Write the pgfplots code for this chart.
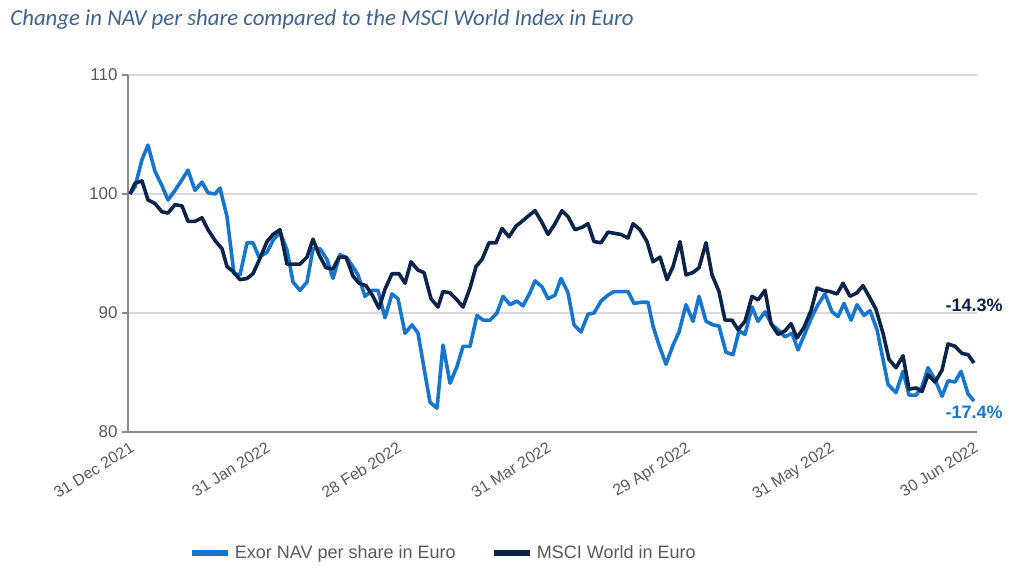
\documentclass[border=0pt]{standalone}
\usepackage{pgfplots}
\pgfplotsset{compat=1.18}
\usepackage{fontspec}
\setmainfont{Liberation Sans}
\newfontfamily\titlefont{Carlito}
\definecolor{exorblue}{RGB}{24,117,205}
\definecolor{navy}{RGB}{12,36,74}
\definecolor{gridgray}{RGB}{217,217,217}
\definecolor{axisgray}{RGB}{137,137,137}
\definecolor{textgray}{RGB}{89,89,89}
\definecolor{titleblue}{RGB}{62,98,145}
\begin{document}
\begin{tikzpicture}[x=0.5bp,y=0.5bp]
\path[use as bounding box] (-128,-147) rectangle (903,432);
\node[anchor=west, text=titleblue, font=\titlefont\itshape\fontsize{11.4bp}{13bp}\selectfont, inner sep=0pt] at (-118,412) {Change in NAV per share compared to the MSCI World Index in Euro};
\begin{axis}[
  at={(0,0)}, anchor=south west,
  scale only axis, width=424.5bp, height=178.5bp,
  xmin=-2, xmax=847, ymin=80, ymax=110,
  axis x line*=bottom, axis y line*=left,
  x axis line style={draw=axisgray, line width=1.1bp, -},
  y axis line style={draw=axisgray, line width=0.8bp, -},
  ytick={80,90,100,110},
  ymajorgrids, grid style={gridgray, line width=0.9bp},
  xtick={0,136,267,417,556,700,844},
  xticklabels={31 Dec 2021,31 Jan 2022,28 Feb 2022,31 Mar 2022,29 Apr 2022,31 May 2022,30 Jun 2022},
  xtick style={draw=none},
  ytick style={draw=axisgray, line width=0.8bp},
  tick align=outside, major tick length=3bp,
  /pgf/number format/assume math mode=true,
  yticklabel style={font=\fontsize{8.5bp}{10bp}\selectfont, text=textgray, inner sep=2bp},
  xticklabel style={font=\fontsize{8bp}{9bp}\selectfont, text=textgray, rotate=32, anchor=north east, inner sep=1bp},
  clip=false,
  legend columns=2,
  legend style={at={(0.373,-0.339)}, anchor=center, draw=none, fill=none,
    font=\fontsize{9bp}{10bp}\selectfont, text=textgray,
    /tikz/every even column/.append style={column sep=16bp}},
  legend image code/.code={\draw[line width=2.6bp] (0bp,0bp) -- (18bp,0bp);},
]
\addplot[exorblue, line width=1.8bp, line join=round] coordinates {
(0,100.0)(5,100.6)(12,102.9)(18,104.1)(25,101.9)(32,100.7)(38,99.5)(45,100.3)(52,101.2)(58,102.0)
(65,100.3)(72,101.0)(78,100.1)(85,100.0)(90,100.5)(97,98.1)(104,93.3)(110,93.2)(117,95.9)(123,95.9)
(129,94.7)(137,95.1)(143,96.1)(150,96.8)(157,95.3)(163,92.6)(170,91.9)(177,92.6)(183,95.4)(190,95.4)
(197,94.5)(203,92.9)(210,94.9)(217,94.6)(222,94.0)(228,93.2)(235,91.4)(242,91.9)(248,91.9)(255,89.6)
(262,91.6)(268,91.2)(275,88.3)(282,89.0)(288,88.3)(295,84.9)(300,82.5)(307,82.0)(313,87.3)(320,84.1)
(327,85.5)(333,87.2)(340,87.2)(347,89.8)(353,89.4)(360,89.4)(367,90.0)(373,91.4)(380,90.7)(387,91.0)
(393,90.6)(400,91.7)(405,92.7)(412,92.2)(418,91.2)(425,91.5)(431,92.9)(438,91.7)(444,89.0)(451,88.4)
(458,89.9)(464,90.0)(471,91.0)(478,91.5)(484,91.8)(491,91.8)(498,91.8)(504,90.8)(511,90.9)(518,90.9)
(523,88.9)(529,87.3)(536,85.7)(543,87.3)(549,88.4)(556,90.7)(563,89.3)(569,91.4)(576,89.3)(583,89.0)
(589,88.9)(596,86.7)(603,86.5)(609,88.5)(615,88.2)(622,90.5)(628,89.3)(635,90.1)(642,89.0)(648,88.6)
(655,88.0)(662,88.3)(668,86.9)(675,88.3)(682,89.7)(688,90.7)(695,91.6)(702,90.1)(708,89.7)(714,90.8)
(721,89.4)(727,90.7)(734,89.8)(740,90.2)(747,88.6)(753,86.1)(758,84.0)(766,83.3)(773,85.1)(779,83.1)
(786,83.1)(792,83.8)(798,85.4)(805,84.4)(812,83.0)(818,84.3)(825,84.2)(831,85.1)(838,83.2)(844,82.6)
};
\addlegendentry{Exor NAV per share in Euro}
\addplot[navy, line width=1.8bp, line join=round] coordinates {
(0,100.0)(5,100.9)(12,101.1)(18,99.5)(25,99.2)(32,98.5)(38,98.4)(45,99.1)(52,99.0)(58,97.7)
(65,97.7)(72,98.0)(78,97.0)(85,96.1)(92,95.4)(97,93.9)(103,93.5)(110,92.8)(117,92.9)(123,93.3)
(130,94.6)(137,96.0)(143,96.6)(150,97.0)(157,94.1)(163,94.1)(170,94.1)(177,94.7)(183,96.2)(189,94.9)
(196,93.8)(203,93.7)(209,94.7)(216,94.7)(223,93.1)(229,92.5)(236,92.3)(243,91.4)(249,90.4)(255,92.0)
(262,93.3)(269,93.3)(275,92.5)(281,94.3)(288,93.6)(294,93.4)(301,91.2)(308,90.5)(313,91.8)(320,91.7)
(327,91.1)(333,90.5)(340,92.1)(346,93.9)(352,94.5)(359,95.9)(366,95.9)(372,97.1)(379,96.4)(386,97.3)
(392,97.7)(399,98.2)(405,98.6)(412,97.6)(418,96.6)(425,97.5)(432,98.6)(438,98.1)(445,97.0)(452,97.2)
(458,97.5)(464,96.0)(471,95.9)(478,96.8)(484,96.7)(491,96.6)(498,96.3)(503,97.5)(510,97.0)(517,96.0)
(523,94.3)(530,94.7)(537,92.8)(543,93.9)(550,96.0)(556,93.2)(563,93.4)(569,93.8)(576,95.9)(582,93.2)
(589,91.8)(595,89.4)(602,89.4)(608,88.6)(615,89.3)(622,91.4)(628,91.1)(635,91.9)(641,89.1)(648,88.2)
(655,88.5)(661,89.1)(667,87.9)(674,88.8)(681,90.2)(687,92.1)(693,91.9)(700,91.8)(707,91.6)(713,92.5)
(720,91.4)(727,91.7)(733,92.3)(739,91.4)(746,90.3)(753,88.3)(759,86.1)(766,85.4)(773,86.4)(779,83.6)
(786,83.7)(792,83.4)(798,84.8)(805,84.2)(812,85.2)(818,87.4)(825,87.2)(832,86.6)(838,86.5)(844,85.8)
};
\addlegendentry{MSCI World in Euro}
\node[anchor=east, text=navy, font=\bfseries\fontsize{9bp}{10bp}\selectfont, inner sep=0pt] at (axis cs:873,90.67) {-14.3\%};
\node[anchor=east, text=exorblue, font=\bfseries\fontsize{9bp}{10bp}\selectfont, inner sep=0pt] at (axis cs:873,81.68) {-17.4\%};
\end{axis}
\end{tikzpicture}
\end{document}
